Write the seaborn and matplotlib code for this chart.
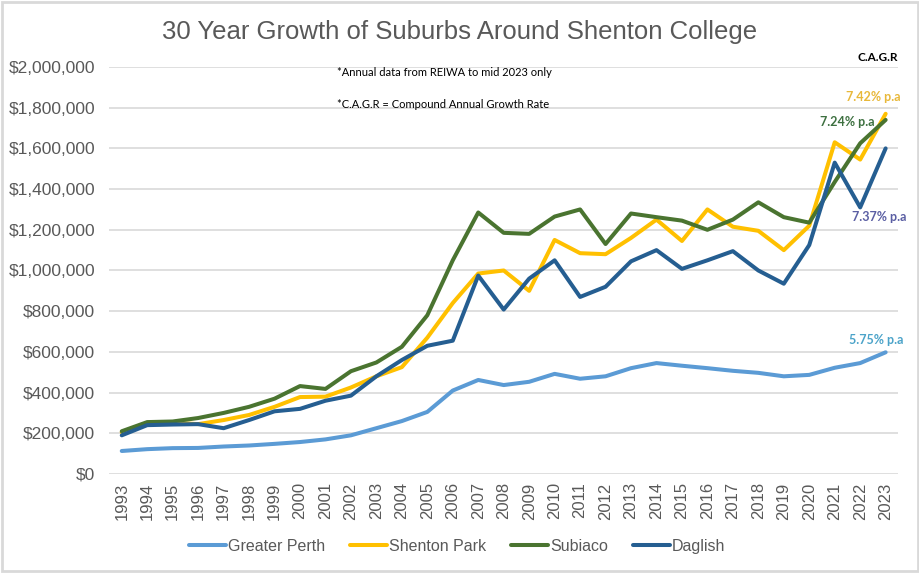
import matplotlib
matplotlib.use("Agg")
import matplotlib.pyplot as plt
import seaborn as sns
import pandas as pd
from matplotlib.ticker import FuncFormatter
from matplotlib.patches import Rectangle

# data
years = [1993, 1994, 1995, 1996, 1997, 1998, 1999, 2000, 2001, 2002,
         2003, 2004, 2005, 2006, 2007, 2008, 2009, 2010, 2011, 2012,
         2013, 2014, 2015, 2016, 2017, 2018, 2019, 2020, 2021, 2022, 2023]

greater_perth = [113000, 122000, 127000, 128000, 135000, 140000, 148000, 157000, 170000, 190000,
                 225000, 260000, 305000, 410000, 462000, 437000, 453000, 492000, 468000, 480000,
                 520000, 545000, 532000, 520000, 507000, 497000, 480000, 487000, 522000, 545000, 598000]

shenton_park = [205000, 250000, 252000, 245000, 265000, 290000, 330000, 378000, 380000, 425000,
                480000, 525000, 670000, 840000, 985000, 1000000, 900000, 1150000, 1085000, 1080000,
                1160000, 1250000, 1145000, 1300000, 1215000, 1195000, 1100000, 1220000, 1630000, 1545000, 1770000]

subiaco = [210000, 255000, 258000, 275000, 300000, 330000, 370000, 432000, 418000, 505000,
           548000, 625000, 780000, 1050000, 1285000, 1185000, 1180000, 1265000, 1300000, 1130000,
           1280000, 1262000, 1245000, 1200000, 1250000, 1335000, 1262000, 1235000, 1435000, 1625000, 1740000]

daglish = [190000, 240000, 243000, 245000, 225000, 265000, 308000, 320000, 360000, 385000,
           480000, 560000, 630000, 655000, 975000, 808000, 960000, 1050000, 870000, 920000,
           1045000, 1100000, 1008000, 1050000, 1095000, 1000000, 935000, 1125000, 1530000, 1310000, 1600000]

suburbs = ["Greater Perth", "Shenton Park", "Subiaco", "Daglish"]
colors = ["#5B9BD5", "#FFC000", "#4A7430", "#255E91"]

cagr_labels = ["5.75% p.a", "7.42% p.a", "7.24% p.a", "7.37% p.a"]
cagr_colors = ["#4BA3C9", "#E8B83A", "#3D7040", "#5A5EA3"]

df = pd.DataFrame({"Year": years,
                   "Greater Perth": greater_perth,
                   "Shenton Park": shenton_park,
                   "Subiaco": subiaco,
                   "Daglish": daglish})
long_df = df.melt(id_vars="Year", var_name="Suburb", value_name="Price")

sns.set_style("white")
plt.rcParams["font.family"] = ["Liberation Sans", "DejaVu Sans"]

fig = plt.figure(figsize=(9.2, 5.73), dpi=100)
ax = fig.add_axes([0.1185, 0.1728, 0.858, 0.7103])

sns.lineplot(data=long_df, x="Year", y="Price", hue="Suburb", hue_order=suburbs,
             palette=colors, linewidth=2.9, ax=ax, legend=True)

ax.set_xlim(1992.5, 2023.5)
ax.set_ylim(0, 2000000)
ax.set_yticks(range(0, 2000001, 200000))
ax.yaxis.set_major_formatter(FuncFormatter(lambda v, p: f"${v:,.0f}"))
ax.set_xticks(years)
ax.set_xticklabels([str(y) for y in years], rotation=90)
ax.tick_params(axis="both", length=0, labelsize=12, labelcolor="#595959")
ax.tick_params(axis="y", labelsize=12.5, pad=10)
ax.tick_params(axis="x", pad=6)
ax.grid(axis="y", color="#D9D9D9", linewidth=1.2)
ax.set_axisbelow(True)
for s in ax.spines.values():
    s.set_visible(False)
ax.set_xlabel("")
ax.set_ylabel("")

handles, labels = ax.get_legend_handles_labels()
ax.legend_.remove()
fig.legend(handles, labels, loc="center", bbox_to_anchor=(0.497, 0.047), ncol=4,
           frameon=False, fontsize=11.5, labelcolor="#595959", handlelength=2.3,
           handletextpad=0.15, columnspacing=1.55)

fig.text(0.5, 0.945, "30 Year Growth of Suburbs Around Shenton College",
         ha="center", va="center", fontsize=18.5, color="#595959")

note_font = ["Lato", "DejaVu Sans"]
fig.text(337 / 920, 1 - 72 / 573, "*Annual data from REIWA to mid 2023 only",
         ha="left", va="center", fontsize=8, family=note_font, color="#000000")
fig.text(337 / 920, 1 - 104 / 573, "*C.A.G.R = Compound Annual Growth Rate",
         ha="left", va="center", fontsize=8, family=note_font, color="#000000")
ax.text(2022.7, 2045000, "C.A.G.R", ha="center", va="center", fontsize=8.5,
        fontweight="bold", family=note_font, color="#000000")

cagr_pos = [(2022.65, 658000), (2022.5, 1852000), (2021.5, 1730000), (2022.75, 1263000)]
for lab, col, (x, y) in zip(cagr_labels, cagr_colors, cagr_pos):
    ax.text(x, y, lab, ha="center", va="center", fontsize=9, fontweight="bold",
            family=note_font, color=col)

fig.patches.append(Rectangle((0.002, 0.003), 0.996, 0.994, transform=fig.transFigure,
                             fill=False, edgecolor="#D9D9D9", linewidth=2))

fig.savefig("out.png", dpi=100)
